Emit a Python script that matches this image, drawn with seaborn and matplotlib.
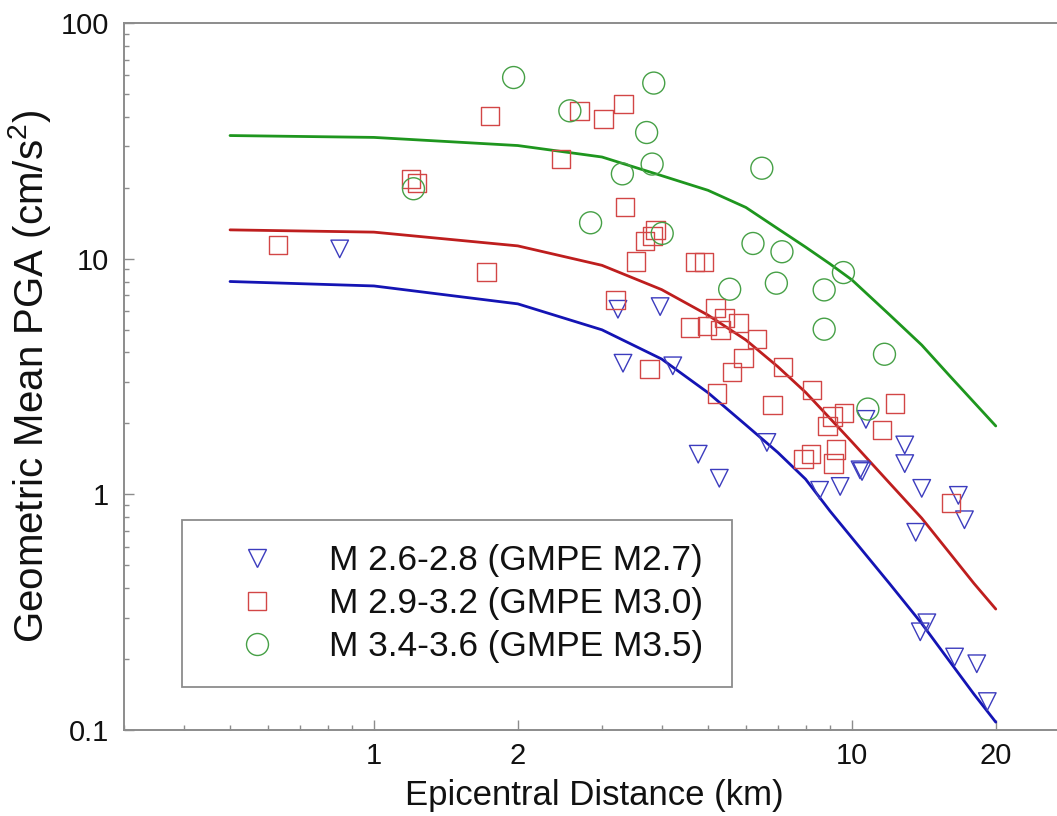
import numpy as np
import pandas as pd
import matplotlib
matplotlib.use("Agg")
import matplotlib.pyplot as plt
from matplotlib.lines import Line2D
from matplotlib.ticker import FixedLocator, NullFormatter, FixedFormatter
import seaborn as sns

# ---------------- data ----------------
tri_dist = [0.848, 3.24, 3.97, 3.32, 4.22, 4.77, 5.28, 6.64, 10.7, 12.9, 12.9, 10.4, 10.5,
            8.56, 9.45, 14.0, 16.7, 17.2, 13.6, 14.35, 13.9, 16.4, 18.25, 19.2]
tri_pga = [11.0, 6.10, 6.26, 3.60, 3.51, 1.48, 1.17, 1.66, 2.08, 1.62, 1.35, 1.27, 1.25,
           1.04, 1.08, 1.06, 0.99, 0.78, 0.69, 0.285, 0.261, 0.204, 0.191, 0.132]

sq_dist = [0.630, 1.72, 1.197, 1.232, 1.75, 2.46, 2.69, 3.02, 3.33, 3.35, 3.88, 3.83, 3.69,
           3.53, 4.69, 4.90, 3.20, 3.77, 4.59, 4.97, 5.18, 5.41, 5.31, 5.79, 6.33, 5.93,
           5.61, 5.22, 7.17, 6.82, 8.25, 9.64, 9.11, 8.89, 12.3, 11.55, 8.21, 7.92, 9.27,
           9.15, 16.1]
sq_pga = [11.4, 8.76, 21.8, 21.0, 40.4, 26.5, 42.4, 39.1, 45.3, 16.6, 13.2, 12.5, 11.9,
          9.72, 9.7, 9.7, 6.68, 3.40, 5.10, 5.18, 6.17, 5.59, 4.99, 5.32, 4.55, 3.80,
          3.30, 2.68, 3.46, 2.39, 2.77, 2.22, 2.14, 1.95, 2.43, 1.875, 1.48, 1.41, 1.55,
          1.35, 0.916]

cir_dist = [1.96, 3.85, 2.57, 3.72, 1.21, 3.82, 3.31, 6.48, 2.84, 4.01, 6.21, 7.14, 9.60,
            6.95, 8.75, 5.55, 8.75, 11.7, 10.8]
cir_pga = [58.7, 55.6, 42.4, 34.3, 19.8, 25.2, 22.9, 24.2, 14.2, 12.8, 11.6, 10.7, 8.73,
           7.87, 7.37, 7.42, 5.02, 3.93, 2.30]

gmpe_dist = [0.5, 1, 2, 3, 4, 5, 6, 7, 8, 9, 10, 12, 14, 16, 18, 20]
gmpe_m27 = [8.0, 7.66, 6.43, 4.99, 3.75, 2.70, 1.97, 1.505, 1.16, 0.849, 0.654, 0.417,
            0.283, 0.196, 0.142, 0.108]
gmpe_m30 = [13.25, 12.96, 11.33, 9.37, 7.39, 5.76, 4.52, 3.48, 2.71, 2.10, 1.67, 1.114,
            0.792, 0.565, 0.419, 0.326]
gmpe_m35 = [33.3, 32.7, 30.2, 27.0, 22.5, 19.5, 16.5, 13.4, 11.2, 9.5, 8.13, 5.77,
            4.30, 3.19, 2.46, 1.95]

labels = ["M 2.6-2.8 (GMPE M2.7)", "M 2.9-3.2 (GMPE M3.0)", "M 3.4-3.6 (GMPE M3.5)"]
x_ticks = [1, 2, 10, 20]
x_ticklabels = ["1", "2", "10", "20"]
y_ticks = [0.1, 1, 10, 100]
y_ticklabels = ["0.1", "1", "10", "100"]

# ---------------- style ----------------
sns.set_theme(style="white")
plt.rcParams["font.family"] = ["Liberation Sans", "DejaVu Sans"]
plt.rcParams["mathtext.fontset"] = "custom"
plt.rcParams["mathtext.rm"] = "Liberation Sans"
plt.rcParams["mathtext.it"] = "Liberation Sans:italic"

mk_cols = ["#3c3cbe", "#d24646", "#46a046"]
ln_cols = ["#1414b4", "#be1e1e", "#1e961e"]
markers = ["v", "s", "o"]
sizes = [160, 175, 250]

fig = plt.figure(figsize=(10.57, 8.16), dpi=100)
ax_left = 124 / 1057
ax_right = 1064 / 1057
ax_bottom = 1 - 730 / 816
ax_top = 1 - 23 / 816
ax = fig.add_axes([ax_left, ax_bottom, ax_right - ax_left, ax_top - ax_bottom])

# lines
for yv, c in zip([gmpe_m27, gmpe_m30, gmpe_m35], ln_cols):
    sns.lineplot(x=gmpe_dist, y=yv, color=c, lw=2.0, ax=ax, sort=False,
                 estimator=None, legend=False)

# points
for xs, ys, m, c, s in zip([tri_dist, sq_dist, cir_dist], [tri_pga, sq_pga, cir_pga],
                           markers, mk_cols, sizes):
    sns.scatterplot(x=xs, y=ys, marker=m, s=s, facecolor="none", edgecolor=c,
                    linewidth=1.0, ax=ax, legend=False, zorder=3)

ax.set_xscale("log")
ax.set_yscale("log")
ax.set_xlim(0.3, 10 ** ((1064 - 373.3) / 478.4))
ax.set_ylim(0.1, 100)

ax.xaxis.set_major_locator(FixedLocator(x_ticks))
ax.xaxis.set_major_formatter(FixedFormatter(x_ticklabels))
xminor = [v * 10 ** k for k in (-1, 0, 1) for v in range(2, 10)]
xminor = [v for v in xminor if v not in x_ticks and 0.3 < v < 28]
ax.xaxis.set_minor_locator(FixedLocator(xminor))
ax.xaxis.set_minor_formatter(NullFormatter())

ax.yaxis.set_major_locator(FixedLocator(y_ticks))
ax.yaxis.set_major_formatter(FixedFormatter(y_ticklabels))
yminor = [v * 10 ** k for k in (-1, 0, 1) for v in range(2, 10)]
ax.yaxis.set_minor_locator(FixedLocator(yminor))
ax.yaxis.set_minor_formatter(NullFormatter())

spine_col = "#8c8c8c"
for sp in ax.spines.values():
    sp.set_color(spine_col)
    sp.set_linewidth(1.4)
ax.spines["right"].set_visible(False)

ax.tick_params(which="both", direction="in", width=1.0,
               top=False, right=False, bottom=True, left=True)
ax.tick_params(which="major", length=7, labelsize=21, labelcolor="#111111")
ax.tick_params(which="minor", length=3.8)
ax.tick_params(axis="y", which="major", pad=11)
ax.tick_params(axis="x", which="major", pad=9)
ax.tick_params(which="both", color=spine_col)

ax.set_xlabel("Epicentral Distance (km)", fontsize=25, color="#111111", labelpad=6)
ax.set_ylabel(r"Geometric Mean PGA (cm/s$^{\mathrm{2}}$)", fontsize=29,
              color="#111111", labelpad=5.5)

handles = [Line2D([], [], ls="none", marker=m, markersize=np.sqrt(s),
                  markerfacecolor="none", markeredgecolor=c, markeredgewidth=1.0)
           for m, c, s in zip(markers, mk_cols, sizes)]
leg = ax.legend(handles, labels, loc="upper left",
                bbox_to_anchor=(182 / 1057, 1 - 683 / 816, (732 - 182) / 1057, 163 / 816),
                bbox_transform=fig.transFigure, mode="expand", borderaxespad=0,
                fontsize=25.4, frameon=True, fancybox=False, framealpha=1,
                edgecolor=spine_col, borderpad=0.68, labelspacing=0.286,
                handlelength=2.9, handletextpad=0.6)
leg.get_frame().set_linewidth(1.3)
for t in leg.get_texts():
    t.set_color("#111111")

fig.savefig("out.png", dpi=100)
